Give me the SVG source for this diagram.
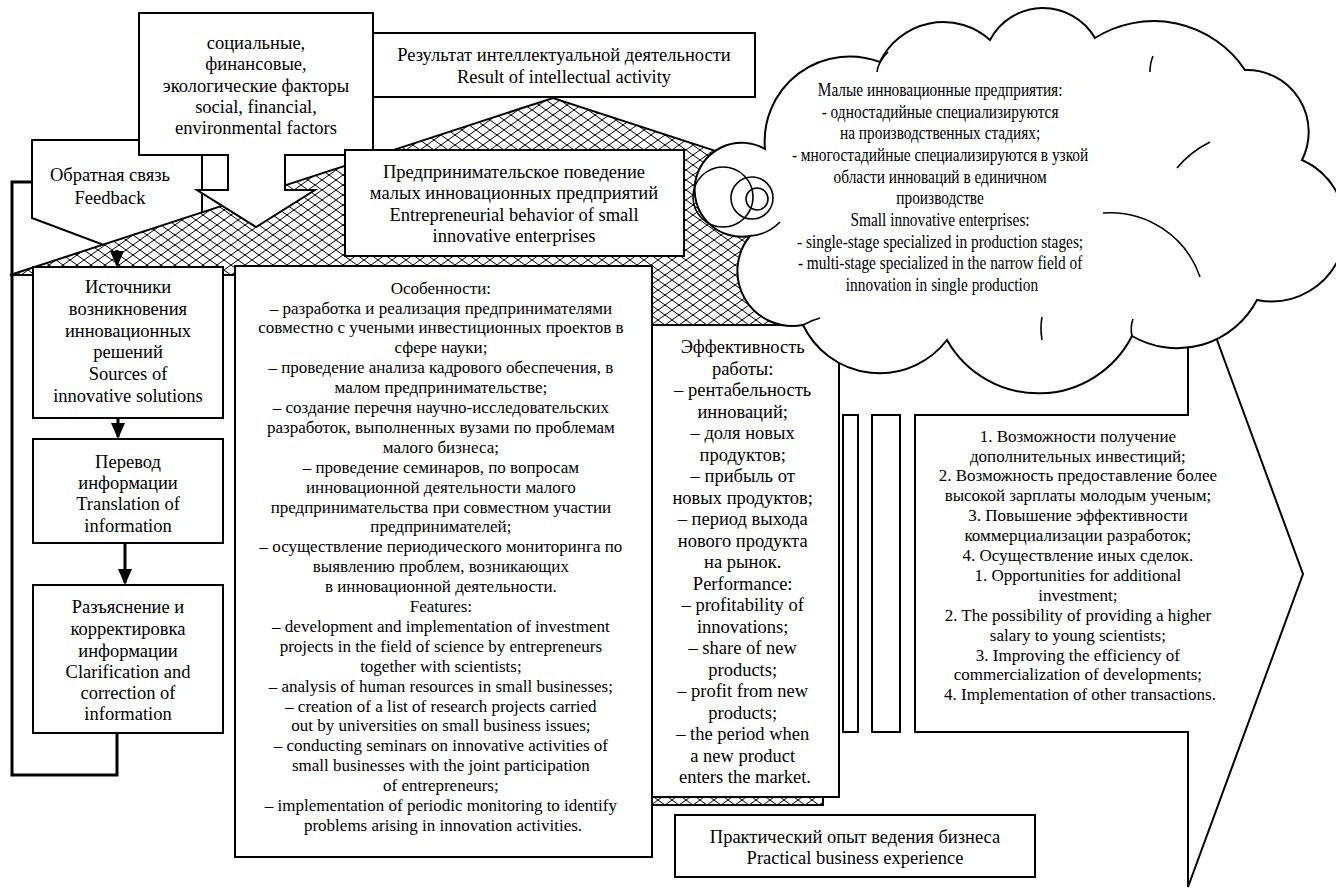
<svg xmlns="http://www.w3.org/2000/svg" width="1336" height="889" viewBox="0 0 1336 889">
<defs>
<pattern id="hatch" patternUnits="userSpaceOnUse" width="14" height="10">
<rect width="14" height="10" fill="#fff"/>
<path d="M0,0 L7,5 L14,0 M0,10 L7,5 L14,10" stroke="#000" stroke-width="1" fill="none"/>
</pattern>
<marker id="arr" viewBox="0 0 16 14" refX="14" refY="7" markerWidth="16" markerHeight="14" markerUnits="userSpaceOnUse" orient="auto"><path d="M0,0 L16,7 L0,14 Z" fill="#000"/></marker>
<style>
.box{fill:#fff;stroke:#000;stroke-width:2}
.t{font-family:"Liberation Serif","Times New Roman",serif;font-size:18.5px;fill:#000;text-anchor:middle}
.s{font-size:17px}
.conn{fill:none;stroke:#000;stroke-width:3}
.seam{fill:none;stroke:#000;stroke-width:1.6}
</style>
</defs>
<rect width="1336" height="889" fill="#fff"/>

<g id="feedback">
<path class="box" d="M32,140 H202 V218 L117,250 L32,218 Z"/>
<text class="t"><tspan x="110" y="181">Обратная связь</tspan><tspan x="110" y="204">Feedback</tspan></text>
</g>

<g id="house">
<path d="M10,275 L553,98 L823,186 L823,805 L652,805 L652,275 Z" fill="url(#hatch)" stroke="#000" stroke-width="2"/>
</g>

<g id="factors">
<path class="box" d="M139,13 H373 V155 H285 V190 H315 L256,227 L197,190 H228 V155 H139 Z"/>
<text class="t"><tspan x="256" y="49">социальные,</tspan><tspan x="256" y="70">финансовые,</tspan><tspan x="256" y="92">экологические факторы</tspan><tspan x="256" y="113">social, financial,</tspan><tspan x="256" y="134">environmental factors</tspan></text>
</g>

<g id="result">
<rect class="box" x="373" y="33" width="382" height="64"/>
<text class="t"><tspan x="564" y="61">Результат интеллектуальной деятельности</tspan><tspan x="564" y="83">Result of intellectual activity</tspan></text>
</g>

<g id="behavior">
<rect class="box" x="345" y="150" width="339" height="106"/>
<text class="t"><tspan x="514" y="178">Предпринимательское поведение</tspan><tspan x="514" y="199">малых инновационных предприятий</tspan><tspan x="514" y="221">Entrepreneurial behavior of small</tspan><tspan x="514" y="242">innovative enterprises</tspan></text>
</g>

<g id="sources">
<rect class="box" x="33" y="267" width="190" height="151"/>
<text class="t"><tspan x="128" y="293">Источники</tspan><tspan x="128" y="315">возникновения</tspan><tspan x="128" y="337">инновационных</tspan><tspan x="128" y="358">решений</tspan><tspan x="128" y="380">Sources of</tspan><tspan x="128" y="402">innovative solutions</tspan></text>
</g>

<g id="translation">
<rect class="box" x="33" y="439" width="190" height="104"/>
<text class="t"><tspan x="128" y="468">Перевод</tspan><tspan x="128" y="489">информации</tspan><tspan x="128" y="510">Translation of</tspan><tspan x="128" y="532">information</tspan></text>
</g>

<g id="clarification">
<rect class="box" x="33" y="585" width="190" height="148"/>
<text class="t"><tspan x="128" y="613">Разъяснение и</tspan><tspan x="128" y="635">корректировка</tspan><tspan x="128" y="657">информации</tspan><tspan x="128" y="678">Clarification and</tspan><tspan x="128" y="699">correction of</tspan><tspan x="128" y="720">information</tspan></text>
</g>

<g id="features">
<rect class="box" x="235" y="266" width="417" height="591"/>
<text class="t s">
<tspan x="443" y="293.6">Особенности:</tspan>
<tspan x="443" y="313.5">– разработка и реализация предпринимателями</tspan>
<tspan x="443" y="333.4">совместно с учеными инвестиционных проектов в</tspan>
<tspan x="443" y="353.3">сфере науки;</tspan>
<tspan x="443" y="373.2">– проведение анализа кадрового обеспечения, в</tspan>
<tspan x="443" y="393.1">малом предпринимательстве;</tspan>
<tspan x="443" y="413">– создание перечня научно-исследовательских</tspan>
<tspan x="443" y="432.9">разработок, выполненных вузами по проблемам</tspan>
<tspan x="443" y="452.8">малого бизнеса;</tspan>
<tspan x="443" y="472.7">– проведение семинаров, по вопросам</tspan>
<tspan x="443" y="492.6">инновационной деятельности малого</tspan>
<tspan x="443" y="512.5">предпринимательства при совместном участии</tspan>
<tspan x="443" y="532.4">предпринимателей;</tspan>
<tspan x="443" y="552.3">– осуществление периодического мониторинга по</tspan>
<tspan x="443" y="572.2">выявлению проблем, возникающих</tspan>
<tspan x="443" y="592.1">в инновационной деятельности.</tspan>
<tspan x="443" y="612">Features:</tspan>
<tspan x="443" y="631.9">– development and implementation of investment</tspan>
<tspan x="443" y="651.8">projects in the field of science by entrepreneurs</tspan>
<tspan x="443" y="671.7">together with scientists;</tspan>
<tspan x="443" y="691.6">– analysis of human resources in small businesses;</tspan>
<tspan x="443" y="711.5">– creation of a list of research projects carried</tspan>
<tspan x="443" y="731.4">out by universities on small business issues;</tspan>
<tspan x="443" y="751.3">– conducting seminars on innovative activities of</tspan>
<tspan x="443" y="771.2">small businesses with the joint participation</tspan>
<tspan x="443" y="791.1">of entrepreneurs;</tspan>
<tspan x="443" y="811">– implementation of periodic monitoring to identify</tspan>
<tspan x="443" y="830.9">problems arising in innovation activities.</tspan>
</text>
</g>

<g id="performance">
<rect class="box" x="652" y="325" width="187" height="472"/>
<text class="t">
<tspan x="745" y="353">Эффективность</tspan>
<tspan x="745" y="374.5">работы:</tspan>
<tspan x="745" y="396">– рентабельность</tspan>
<tspan x="745" y="417.5">инноваций;</tspan>
<tspan x="745" y="439">– доля новых</tspan>
<tspan x="745" y="460.5">продуктов;</tspan>
<tspan x="745" y="482">– прибыль от</tspan>
<tspan x="745" y="503.5">новых продуктов;</tspan>
<tspan x="745" y="525">– период выхода</tspan>
<tspan x="745" y="546.5">нового продукта</tspan>
<tspan x="745" y="568">на рынок.</tspan>
<tspan x="745" y="589.5">Performance:</tspan>
<tspan x="745" y="611">– profitability of</tspan>
<tspan x="745" y="632.5">innovations;</tspan>
<tspan x="745" y="654">– share of new</tspan>
<tspan x="745" y="675.5">products;</tspan>
<tspan x="745" y="697">– profit from new</tspan>
<tspan x="745" y="718.5">products;</tspan>
<tspan x="745" y="740">– the period when</tspan>
<tspan x="745" y="761.5">a new product</tspan>
<tspan x="745" y="783">enters the market.</tspan>
</text>
</g>

<g id="bars">
<rect class="box" x="843" y="415" width="15" height="317"/>
<rect class="box" x="872" y="415" width="28" height="317"/>
</g>

<g id="opportunities">
<path class="box" d="M915,415 H1188 V261 L1303,574 L1188,887 V732 H915 Z"/>
<text class="t s">
<tspan x="1080" y="441.6">1. Возможности получение</tspan>
<tspan x="1080" y="461.5">дополнительных инвестиций;</tspan>
<tspan x="1080" y="481.4">2. Возможность предоставление более</tspan>
<tspan x="1080" y="501.3">высокой зарплаты молодым ученым;</tspan>
<tspan x="1080" y="521.2">3. Повышение эффективности</tspan>
<tspan x="1080" y="541.1">коммерциализации разработок;</tspan>
<tspan x="1080" y="561">4. Осуществление иных сделок.</tspan>
<tspan x="1080" y="580.9">1. Opportunities for additional</tspan>
<tspan x="1080" y="600.8">investment;</tspan>
<tspan x="1080" y="620.7">2. The possibility of providing a higher</tspan>
<tspan x="1080" y="640.6">salary to young scientists;</tspan>
<tspan x="1080" y="660.5">3. Improving the efficiency of</tspan>
<tspan x="1080" y="680.4">commercialization of developments;</tspan>
<tspan x="1080" y="700.3">4. Implementation of other transactions.</tspan>
</text>
</g>

<g id="cloud">
<path class="box" d="M750,236 A47 47 0 1 1 765,149 A85 85 0 0 1 880,62 A70 70 0 0 1 990,40 A60 60 0 0 1 1095,38 A110 110 0 0 1 1245,70 A62 62 0 0 1 1302,160 A74 74 0 0 1 1257,300 A90 90 0 0 1 1132,336 A105 105 0 0 1 947,340 A85 85 0 0 1 803,325 A55 55 0 0 1 750,236 Z"/>
<path class="seam" d="M750,236 A47 47 0 0 0 780,222"/>
<path class="seam" d="M877,72 Q878,62 888,52"/>
<path class="seam" d="M1153,56 Q1150,63 1150,72"/>
<path class="seam" d="M1210,142 Q1190,152 1177,168"/>
<path class="seam" d="M1103,213 A95 95 0 0 1 1200,277"/>
<path class="seam" d="M1132,336 Q1130,327 1133,319"/>
<path class="seam" d="M1042,317 Q1040,328 1042,340"/>
<path class="seam" d="M803,325 Q812,320 820,318"/>
<circle class="seam" cx="723" cy="197" r="30"/>
<circle class="seam" cx="752" cy="198" r="21"/>
<circle class="seam" cx="757" cy="199" r="11"/>
<g transform="translate(942,0) scale(0.83,1)">
<text class="t">
<tspan x="0" y="96">Малые инновационные предприятия:</tspan>
<tspan x="0" y="117.7">- одностадийные специализируются</tspan>
<tspan x="0" y="139.3">на производственных стадиях;</tspan>
<tspan x="0" y="161">- многостадийные специализируются в узкой</tspan>
<tspan x="0" y="182.6">области инноваций в единичном</tspan>
<tspan x="0" y="204.3">производстве</tspan>
<tspan x="0" y="225.9">Small innovative enterprises:</tspan>
<tspan x="0" y="247.6">- single-stage specialized in production stages;</tspan>
<tspan x="0" y="269.2">- multi-stage specialized in the narrow field of</tspan>
<tspan x="0" y="290.9">innovation in single production</tspan>
</text>
</g>
</g>

<g id="practice">
<rect class="box" x="675" y="815" width="360" height="62"/>
<text class="t"><tspan x="855" y="843">Практический опыт ведения бизнеса</tspan><tspan x="855" y="864">Practical business experience</tspan></text>
</g>

<g id="connectors">
<line class="conn" x1="117" y1="250" x2="117" y2="265" marker-end="url(#arr)"/>
<line class="conn" x1="118" y1="418" x2="118" y2="437" marker-end="url(#arr)"/>
<line class="conn" x1="125" y1="543" x2="125" y2="583" marker-end="url(#arr)"/>
<polyline class="conn" points="117,733 117,775 12,775 12,182 32,182"/>
</g>
</svg>
